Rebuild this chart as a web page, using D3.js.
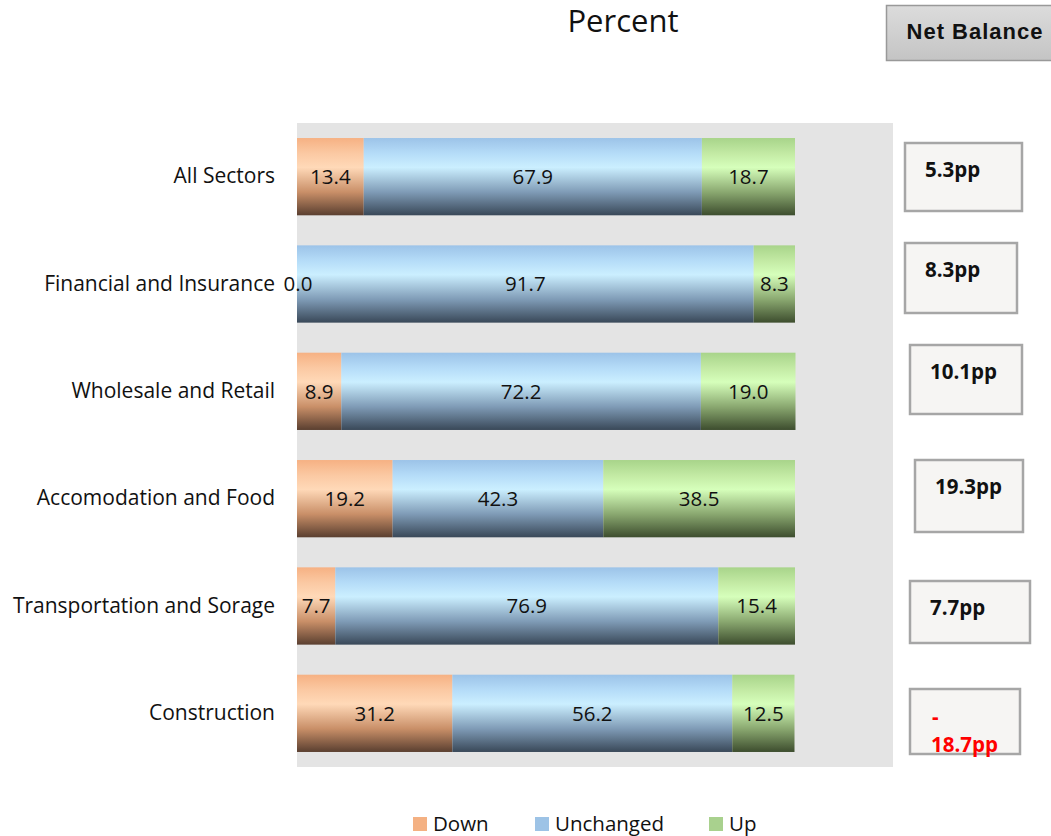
<!DOCTYPE html>
<html><head><meta charset="utf-8">
<script src="https://cdn.jsdelivr.net/npm/d3@7"></script>
<style>body{margin:0;background:#fff;}svg{display:block;font-family:"Open Sans",sans-serif;}</style>
</head><body>
<svg id="c" width="1051" height="836"></svg>
<script>
const categories = ["All Sectors","Financial and Insurance","Wholesale and Retail","Accomodation and Food","Transportation and Sorage","Construction"];
const down = [13.4, 0.0, 8.9, 19.2, 7.7, 31.2];
const unchanged = [67.9, 91.7, 72.2, 42.3, 76.9, 56.2];
const up = [18.7, 8.3, 19.0, 38.5, 15.4, 12.5];
const netBalance = ["5.3pp","8.3pp","10.1pp","19.3pp","7.7pp","-18.7pp"];
const seriesNames = ["Down","Unchanged","Up"];

// box layout (styling only)
const boxLayout = [
  {x:905,y:143,w:117,h:68},{x:905,y:243,w:112,h:70},{x:910,y:345,w:112,h:69},
  {x:915,y:460,w:108,h:72},{x:910,y:581,w:120,h:62},{x:910,y:689,w:110,h:65}
];

const svg = d3.select("#c");
const FONT = "'Open Sans',sans-serif";
const plot = {l:297, r:893, t:123, b:767};
const x = d3.scaleLinear().domain([0,120]).range([plot.l, plot.l + (795-297)*1.2]);
const y = d3.scaleBand().domain(categories).range([plot.t, plot.b]).paddingInner(0.28).paddingOuter(0.14);

const defs = svg.append("defs");
const grads = {
  Down: ["#f6b183","#fbc9a3","#ffd9b8","#c98f68","#5a3f30"],
  Unchanged: ["#9cc3e8","#b5dcf8","#cbefff","#7f9bb6","#394858"],
  Up: ["#a8d48a","#c3eaa4","#d6ffbb","#8aa870","#3d4d2e"]
};
Object.entries(grads).forEach(([k,c])=>{
  const g = defs.append("linearGradient").attr("id","g"+k).attr("x1",0).attr("x2",0).attr("y1",0).attr("y2",1);
  [0,0.2,0.38,0.7,1].forEach((o,i)=>g.append("stop").attr("offset",o).attr("stop-color",c[i]));
});
const gNB = defs.append("linearGradient").attr("id","gNB").attr("x1",0).attr("x2",0).attr("y1",0).attr("y2",1);
gNB.append("stop").attr("offset",0).attr("stop-color","#dcdcdc");
gNB.append("stop").attr("offset",1).attr("stop-color","#c4c4c4");

svg.append("rect").attr("x",plot.l).attr("y",plot.t).attr("width",plot.r-plot.l).attr("height",plot.b-plot.t).attr("fill","#e4e4e4");

const data = categories.map((c,i)=>({cat:c, vals:[down[i],unchanged[i],up[i]]}));
const segs = [];
data.forEach(d=>{
  let acc = 0;
  d.vals.forEach((v,j)=>{ segs.push({cat:d.cat, s:seriesNames[j], x0:acc, x1:acc+v, v}); acc += v; });
});
svg.append("g").selectAll("rect").data(segs).join("rect")
  .attr("x",d=>x(d.x0)).attr("y",d=>y(d.cat)).attr("width",d=>x(d.x1)-x(d.x0)).attr("height",y.bandwidth())
  .attr("fill",d=>"url(#g"+d.s+")");
svg.append("g").selectAll("text").data(segs).join("text")
  .attr("x",d=>(x(d.x0)+x(d.x1))/2 + (d.v===0?1:0)).attr("y",d=>y(d.cat)+y.bandwidth()/2).attr("dy","0.35em")
  .attr("text-anchor","middle").attr("font-size",20.5).attr("fill","#111").text(d=>d.v.toFixed(1));

// category axis
const ax = svg.append("g").attr("transform",`translate(${plot.l},0)`).call(d3.axisLeft(y).tickSize(0).tickPadding(22));
ax.select(".domain").remove();
ax.selectAll("text").attr("font-size",21).attr("fill","#111").attr("font-family",FONT);

// title
svg.append("text").attr("x",623).attr("y",32).attr("text-anchor","middle").attr("font-size",31).attr("fill","#111").text("Percent");

// Net balance header
svg.append("rect").attr("x",886.5).attr("y",5.5).attr("width",170).attr("height",55).attr("fill","url(#gNB)").attr("stroke","#999").attr("stroke-width",1.5);
svg.append("text").attr("x",975).attr("y",39).attr("text-anchor","middle").attr("font-family","'Liberation Sans',Arial,sans-serif").attr("font-weight","bold").attr("font-size",22).attr("letter-spacing",1).attr("fill","#111").text("Net Balance");

// net balance boxes
netBalance.forEach((t,i)=>{
  const b = boxLayout[i];
  svg.append("rect").attr("x",b.x).attr("y",b.y).attr("width",b.w).attr("height",b.h).attr("fill","#f6f5f3").attr("stroke","#a6a6a6").attr("stroke-width",2.5);
  const neg = t.startsWith("-");
  if(neg){
    svg.append("text").attr("x",b.x+22).attr("y",b.y+35).attr("font-weight","bold").attr("font-size",20.5).attr("fill","#ff0000").text("-");
    svg.append("text").attr("x",b.x+21).attr("y",b.y+63).attr("font-weight","bold").attr("font-size",20.5).attr("fill","#ff0000").text(t.slice(1));
  } else {
    svg.append("text").attr("x",b.x+20).attr("y",b.y+34).attr("font-weight","bold").attr("font-size",20.5).attr("fill","#111").text(t);
  }
});

// legend
const legCol = {Down:"#f4b183",Unchanged:"#9dc3e6",Up:"#a9d18e"};
const legX = [413,535,709];
seriesNames.forEach((s,i)=>{
  svg.append("rect").attr("x",legX[i]).attr("y",817).attr("width",14).attr("height",14).attr("fill",legCol[s]);
  svg.append("text").attr("x",legX[i]+20).attr("y",831).attr("font-size",20.5).attr("fill","#111").text(s);
});
</script>
</body></html>
